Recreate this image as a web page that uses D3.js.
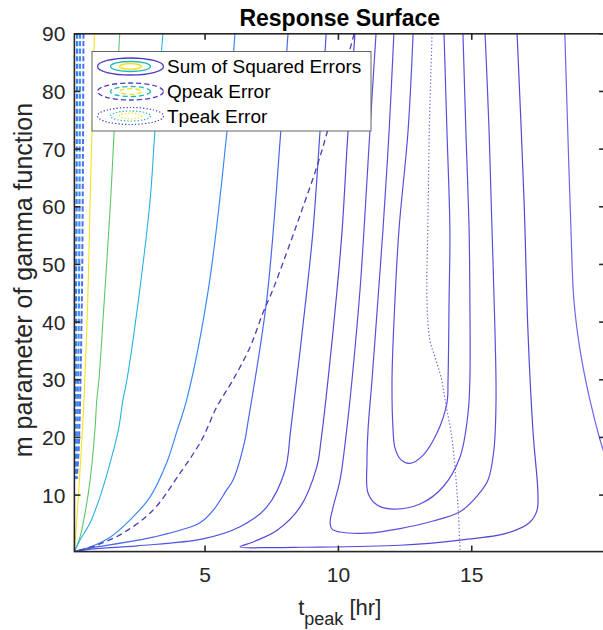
<!DOCTYPE html>
<html><head><meta charset="utf-8">
<script src="https://cdn.jsdelivr.net/npm/d3@7"></script>
<style>
html,body{margin:0;padding:0;background:#fff;}
svg{display:block;font-family:"Liberation Sans",Arial,Helvetica,sans-serif;}
</style></head>
<body><svg id="c" width="603" height="630"></svg>
<script>
// ---- data (x = t_peak [hr], y = m parameter) ----
const xTicks = [5, 10, 15];
const yTicks = [10, 20, 30, 40, 50, 60, 70, 80, 90];
const legendLabels = ["Sum of Squared Errors", "Qpeak Error", "Tpeak Error"];

// Sum of Squared Errors contours (highest level first)
const sseYellow = [[0.85,90],[0.76,73.1],[0.69,61.2],[0.60,43.8],[0.46,26.5],[0.40,21.3],[0.31,14.3],[0.24,9.1],[0.16,3.9],[0.1,0.2]];
const sseGreen = [[1.80,90],[1.59,73.1],[1.46,61.2],[1.22,43.8],[1.02,30.0],[0.94,26.5],[0.87,21.3],[0.69,12.6],[0.50,6.9],[0.31,2.7],[0.1,0.2]];
const sseCyan = [[3.42,90],[3.12,73.1],[2.94,61.2],[2.50,43.8],[2.07,30.0],[1.92,26.5],[1.75,21.3],[1.44,15.6],[1.06,9.7],[0.69,5.2],[0.31,2.2],[0.1,0.2]];
const sseLightBlue = [[6.12,90],[5.82,73.1],[5.12,45.6],[4.31,26.5],[3.96,21.3],[3.56,15.6],[2.94,9.7],[2.19,5.7],[1.44,2.7],[0.69,1.0],[0.1,0.2]];
const sseBlue = [[8.11,90],[7.84,73.1],[7.31,43.8],[6.56,21.3],[6.50,19.6],[6.05,12.6],[5.81,10.9],[5.31,7.4],[4.81,5.2],[3.05,2.7],[0.69,0.8],[0.1,0.2]];
const sseLevel6 = [[9.54,90],[9.31,73.1],[9.05,56.0],[8.82,45.6],[8.21,21.3],[8.00,14.3],[7.31,7.9],[6.31,4.5],[4.92,2.4],[2.45,1.2],[0.57,0.55],[0.1,0.2]];
const sseLevel7 = [[10.62,90],[10.36,73.1],[10.14,56.0],[9.95,45.6],[9.61,30.0],[9.35,19.55],[9.19,14.9],[8.56,7.9],[7.70,3.9],[6.87,2.0],[6.31,1.0],[7.44,0.9],[8.56,0.95],[12.31,1.3],[14.56,2.2],[16.32,3.4],[17.18,5.3],[17.45,7.4],[17.48,10.4],[17.30,20.8],[17.11,38.1],[16.96,61.2],[16.70,90]];
const sseLevel8 = [[11.41,90],[11.18,73.1],[10.96,56.0],[10.81,45.6],[10.51,30.0],[10.31,21.3],[10.06,12.6],[9.80,7.9],[9.69,5.3],[9.76,4.1],[10.06,3.6],[11.07,3.4],[12.31,4.2],[13.55,5.5],[14.56,7.1],[15.23,10.0],[15.61,12.6],[15.83,17.8],[15.91,26.5],[15.87,38.6],[15.76,56.0],[15.65,73.1],[15.50,90]];
const sseLevel9 = [[12.08,90],[11.90,73.1],[11.67,56.0],[11.48,43.8],[11.26,30.0],[11.11,21.3],[11.07,15.6],[11.11,10.35],[11.45,8.27],[12.05,7.58],[13.06,8.45],[13.92,11.4],[14.56,16.6],[14.86,24.2],[14.93,30.0],[14.93,43.8],[14.90,56.0],[14.78,73.1],[14.67,90]];
const sseLevel10 = [[12.80,90],[12.61,73.1],[12.27,56.0],[12.12,43.8],[12.01,30.0],[12.05,21.3],[12.12,18.2],[12.35,16.1],[12.68,15.5],[13.17,16.9],[13.70,20.8],[14.07,26.0],[14.11,30.0],[14.15,43.8],[14.18,56.0],[14.07,73.1],[13.96,90]];
const sseLevel5b = [[18.49,90],[18.60,73.1],[18.72,56.0],[18.83,43.8],[19.06,35.2],[19.43,26.5],[19.81,19.6],[20.11,15.2]];

// Qpeak Error contours
const qpeakMain = [[10.59,90],[10.12,82.0],[9.60,73.3],[9.19,66.9],[8.67,59.95],[8.19,53.7],[7.54,45.6],[7.17,41.6],[6.69,35.7],[6.05,30.0],[5.44,25.3],[4.87,19.55],[4.06,13.8],[3.05,7.4],[1.92,3.4],[0.94,1.34],[0.1,0.2]];
const qpeakEdgeA = [[0.20,90],[0.18,60],[0.16,43.8],[0.14,17.8],[0.12,12.8]];
const qpeakEdgeB = [[0.31,90],[0.29,60],[0.27,43.8],[0.20,17.8],[0.16,12.8]];
const qpeakEdgeC = [[0.44,90],[0.41,60],[0.38,43.8],[0.26,17.8],[0.19,12.8]];

// Tpeak Error contour
const tpeakMain = [[13.51,90],[13.47,83.7],[13.41,73.8],[13.37,61.6],[13.35,56.0],[13.32,43.8],[13.43,36.9],[13.66,33.4],[13.87,30.0],[14.00,26.5],[14.25,20.1],[14.37,14.9],[14.44,10.9],[14.50,6.9],[14.56,0.2]];

// ---- layout & styles ----
const W = 603, H = 630;
const plot = {left: 74.4, right: 605.1, top: 33.8, bottom: 551.6};
const x = d3.scaleLinear().domain([0.1, 20]).range([plot.left, plot.right]);
const y = d3.scaleLinear().domain([0.2, 90]).range([plot.bottom, plot.top]);

const styles = [
  {data: sseYellow,   color: "#f2e31a", w: 1.1, dash: null},
  {data: sseGreen,    color: "#5cc865", w: 1.1, dash: null},
  {data: sseCyan,     color: "#26b2e2", w: 1.1, dash: null},
  {data: sseLightBlue,color: "#3a8af4", w: 1.2, dash: null},
  {data: sseBlue,     color: "#4a66ee", w: 1.2, dash: null},
  {data: sseLevel6,   color: "#4f52e2", w: 1.2, dash: null},
  {data: sseLevel7,   color: "#5448d8", w: 1.2, dash: null},
  {data: sseLevel8,   color: "#5a4fdc", w: 1.2, dash: null},
  {data: sseLevel9,   color: "#5a4fdc", w: 1.2, dash: null},
  {data: sseLevel10,  color: "#5a4fdc", w: 1.2, dash: null},
  {data: sseLevel5b,  color: "#6d66ea", w: 1.2, dash: null},
  {data: qpeakEdgeA,  color: "#3c7ff2", w: 2.2, dash: "5,2.5"},
  {data: qpeakEdgeB,  color: "#3a8cf6", w: 2.2, dash: "5,2.5"},
  {data: qpeakEdgeC,  color: "#4a72ee", w: 2.0, dash: "5,2.5"},
  {data: qpeakMain,   color: "#4a3bb4", w: 1.3, dash: "6,4"},
  {data: tpeakMain,   color: "#6f63d6", w: 1.2, dash: "1.3,2.2"}
];

const svg = d3.select("#c");
svg.append("rect").attr("width", W).attr("height", H).attr("fill", "#fff");

svg.append("defs").append("clipPath").attr("id", "clip")
  .append("rect").attr("x", plot.left).attr("y", plot.top)
  .attr("width", plot.right - plot.left).attr("height", plot.bottom - plot.top);

const line = d3.line().x(d => x(d[0])).y(d => y(d[1])).curve(d3.curveCatmullRom.alpha(0.5));

const g = svg.append("g").attr("clip-path", "url(#clip)");
g.selectAll("path.c").data(styles).join("path")
  .attr("class", "c")
  .attr("d", s => line(s.data))
  .attr("fill", "none")
  .attr("stroke", s => s.color)
  .attr("stroke-width", s => s.w)
  .attr("stroke-dasharray", s => s.dash)
  .attr("stroke-linejoin", "round");

// ---- axes ----
const axisColor = "#262626";
const tickLen = 6;
const axG = svg.append("g");
axG.append("rect").attr("x", plot.left).attr("y", plot.top)
  .attr("width", plot.right - plot.left).attr("height", plot.bottom - plot.top)
  .attr("fill", "none").attr("stroke", axisColor).attr("stroke-width", 1.6);

// y ticks (left and right, inward)
yTicks.forEach(v => {
  axG.append("line").attr("x1", plot.left).attr("x2", plot.left + tickLen)
    .attr("y1", y(v)).attr("y2", y(v)).attr("stroke", axisColor).attr("stroke-width", 1.6);
  axG.append("line").attr("x1", plot.right).attr("x2", plot.right - tickLen)
    .attr("y1", y(v)).attr("y2", y(v)).attr("stroke", axisColor).attr("stroke-width", 1.6);
  axG.append("text").attr("x", plot.left - 9).attr("y", y(v)).attr("dy", "0.36em")
    .attr("text-anchor", "end").attr("font-size", 21).attr("fill", axisColor).text(v);
});
// x ticks (bottom and top, inward)
xTicks.forEach(v => {
  axG.append("line").attr("x1", x(v)).attr("x2", x(v))
    .attr("y1", plot.bottom).attr("y2", plot.bottom - tickLen).attr("stroke", axisColor).attr("stroke-width", 1.6);
  axG.append("line").attr("x1", x(v)).attr("x2", x(v))
    .attr("y1", plot.top).attr("y2", plot.top + tickLen).attr("stroke", axisColor).attr("stroke-width", 1.6);
  axG.append("text").attr("x", x(v)).attr("y", 582)
    .attr("text-anchor", "middle").attr("font-size", 21).attr("fill", axisColor).text(v);
});

// title
svg.append("text").attr("x", (plot.left + plot.right) / 2).attr("y", 26)
  .attr("text-anchor", "middle").attr("font-size", 23).attr("font-weight", "bold")
  .attr("fill", "#000").text("Response Surface");

// x label with subscript
const xl = svg.append("text").attr("x", (plot.left + plot.right) / 2).attr("y", 615)
  .attr("text-anchor", "middle").attr("font-size", 22).attr("fill", axisColor);
xl.append("tspan").text("t");
xl.append("tspan").attr("font-size", 18).attr("dy", 10).text("peak");
xl.append("tspan").attr("dy", -10).text(" [hr]");

// y label
svg.append("text").attr("transform", `translate(32,280) rotate(-90)`)
  .attr("text-anchor", "middle").attr("font-size", 25).attr("fill", axisColor)
  .text("m parameter of gamma function");

// ---- legend ----
const lg = svg.append("g");
lg.append("rect").attr("x", 92).attr("y", 51.5).attr("width", 279).attr("height", 79.5)
  .attr("fill", "#fff").attr("stroke", "#666").attr("stroke-width", 1);
const rowY = [66.5, 91.5, 116];
const rowDash = [null, "5,3", "1.3,2"];
const ringColors = ["#4a3bc0", "#22b8b2", "#ece318"];
const ringR = [[33, 8.5], [20, 5], [11, 2.8]];
legendLabels.forEach((lab, i) => {
  ringR.forEach((r, k) => {
    lg.append("ellipse").attr("cx", 130.5).attr("cy", rowY[i]).attr("rx", r[0]).attr("ry", r[1])
      .attr("fill", "none").attr("stroke", ringColors[k]).attr("stroke-width", i === 2 ? 1.2 : 1.3)
      .attr("stroke-dasharray", rowDash[i]);
  });
  lg.append("text").attr("x", 167).attr("y", rowY[i]).attr("dy", "0.36em")
    .attr("font-size", 19).attr("fill", "#000").text(lab);
});
</script>
</body></html>
